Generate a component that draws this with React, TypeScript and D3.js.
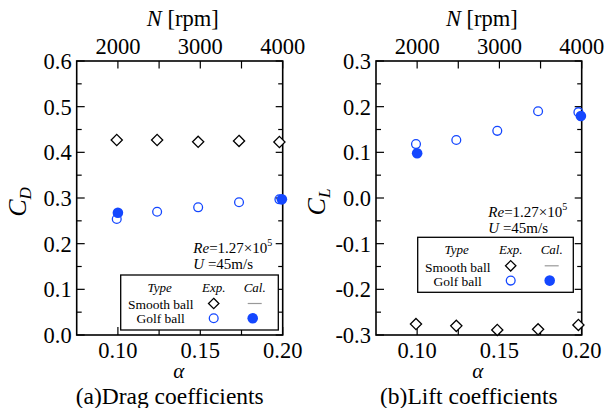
import React from "react";
import * as d3 from "d3";

const alphaExp = [0.0993, 0.1238, 0.1487, 0.1735, 0.198];
const alphaCal = [0.1, 0.1995];
const cdSmoothExp = [0.427, 0.427, 0.423, 0.425, 0.4226];
const cdGolfExp = [0.254, 0.27, 0.2796, 0.2906, 0.2971];
const cdGolfCal = [0.2678, 0.297];
const clSmoothExp = [-0.276, -0.28, -0.289, -0.2875, -0.278];
const clGolfExp = [0.118, 0.127, 0.147, 0.19, 0.188];
const clGolfCal = [0.098, 0.1795];
const alphaTicks = [0.1, 0.125, 0.15, 0.175, 0.2];
const alphaLabels = [0.1, 0.15, 0.2];
const rpmTicks = [2000, 2500, 3000, 3500, 4000];
const rpmLabels = [2000, 3000, 4000];
const cdTicks = [0, 0.1, 0.2, 0.3, 0.4, 0.5, 0.6];
const clTicks = [-0.3, -0.2, -0.1, 0, 0.1, 0.2, 0.3];
const legendRows = ["Smooth ball", "Golf ball"];

const BLUE = "#1447ff";
const FONT = "Liberation Serif, Times New Roman, serif";

type PanelProps = {
  x0: number;
  x1: number;
  yDomain: [number, number];
  yTicks: number[];
  smooth: number[];
  golf: number[];
  cal: number[];
  sub: string;
  caption: string;
  reY: number;
  legendTop: number;
  legendLeft: number;
  legendRight: number;
};

function Diamond({ cx, cy, r }: { cx: number; cy: number; r: number }) {
  return (
    <path
      d={`M${cx},${cy - r}L${cx + r},${cy}L${cx},${cy + r}L${cx - r},${cy}Z`}
      fill="white"
      stroke="black"
      strokeWidth={1.3}
    />
  );
}

function Panel(p: PanelProps) {
  const top = 61;
  const bottom = 335;
  const x = d3.scaleLinear().domain([0.075, 0.2]).range([p.x0, p.x1]);
  const xr = d3.scaleLinear().domain([1500, 4000]).range([p.x0, p.x1]);
  const y = d3.scaleLinear().domain(p.yDomain).range([bottom, top]);
  const minor: number[] = [];
  for (let i = 0; i < p.yTicks.length - 1; i++) minor.push((p.yTicks[i] + p.yTicks[i + 1]) / 2);
  const fmtY = (v: number) => {
    const s = d3.format(".1f")(Math.abs(v) < 1e-9 ? 0 : v);
    return s.replace("−", "-");
  };
  const cx = (p.x0 + p.x1) / 2;
  const lt = p.legendTop;
  const colType = p.legendLeft + 39;
  const colExp = p.legendLeft + 93;
  const colCal = p.legendLeft + 134;
  return (
    <g fontFamily={FONT}>
      {p.yTicks.map((v) => (
        <g key={"yt" + v}>
          <line x1={p.x0} x2={p.x0 + 8} y1={y(v)} y2={y(v)} stroke="black" strokeWidth={1.2} />
          <line x1={p.x1} x2={p.x1 - 7} y1={y(v)} y2={y(v)} stroke="black" strokeWidth={1.2} />
          <text x={p.x0 - 5} y={y(v)} dy="0.35em" textAnchor="end" fontSize={22.5}>
            {fmtY(v)}
          </text>
        </g>
      ))}
      {minor.map((v) => (
        <g key={"ym" + v}>
          <line x1={p.x0} x2={p.x0 + 5} y1={y(v)} y2={y(v)} stroke="black" strokeWidth={1.2} />
          <line x1={p.x1} x2={p.x1 - 4.5} y1={y(v)} y2={y(v)} stroke="black" strokeWidth={1.2} />
        </g>
      ))}
      {alphaTicks.map((v) => (
        <line key={"xt" + v} x1={x(v)} x2={x(v)} y1={bottom} y2={bottom - 8} stroke="black" strokeWidth={1.2} />
      ))}
      {alphaLabels.map((v) => (
        <text key={"xl" + v} x={x(v)} y={358} textAnchor="middle" fontSize={22.5}>
          {d3.format(".2f")(v)}
        </text>
      ))}
      {rpmTicks.map((v) => (
        <line key={"rt" + v} x1={xr(v)} x2={xr(v)} y1={top} y2={top + 7.5} stroke="black" strokeWidth={1.2} />
      ))}
      {rpmLabels.map((v) => (
        <text key={"rl" + v} x={xr(v)} y={53.5} textAnchor="middle" fontSize={22.5}>
          {v}
        </text>
      ))}
      <rect x={p.x0} y={top} width={p.x1 - p.x0} height={bottom - top} fill="none" stroke="black" strokeWidth={1.6} />
      <text x={cx + 3} y={26} textAnchor="middle" fontSize={22.5}>
        <tspan fontStyle="italic">N</tspan> [rpm]
      </text>
      <text x={cx - 1} y={378} textAnchor="middle" fontSize={21} fontStyle="italic">
        α
      </text>
      <text x={cx - 10} y={403.5} textAnchor="middle" fontSize={23.5}>
        {p.caption}
      </text>
      <text transform={`translate(${p.x0 - 51},${(top + bottom) / 2 + 4}) rotate(-90)`} textAnchor="middle" fontSize={26}>
        <tspan fontStyle="italic">C</tspan>
        <tspan fontStyle="italic" fontSize={17} dy={5}>
          {p.sub}
        </tspan>
      </text>
      <text x={p.legendRight - 85} y={p.reY} fontSize={15}>
        <tspan fontStyle="italic">Re</tspan>
        <tspan>=1.27×10</tspan>
        <tspan fontSize={10} dy={-7}>5</tspan>
      </text>
      <text x={p.legendRight - 85} y={p.reY + 16} fontSize={15}>
        <tspan fontStyle="italic">U</tspan>
        <tspan> =45m/s</tspan>
      </text>
      <rect x={p.legendLeft} y={lt} width={p.legendRight - p.legendLeft} height={55} fill="white" stroke="black" strokeWidth={1.3} />
      <text x={colType} y={lt + 16.5} textAnchor="middle" fontSize={13} fontStyle="italic">Type</text>
      <text x={colExp} y={lt + 16.5} textAnchor="middle" fontSize={13} fontStyle="italic">Exp.</text>
      <text x={colCal} y={lt + 16.5} textAnchor="middle" fontSize={13} fontStyle="italic">Cal.</text>
      {legendRows.map((r, i) => (
        <text key={r} x={colType + 1} y={lt + 34.3 + i * 14} textAnchor="middle" fontSize={13.5}>
          {r}
        </text>
      ))}
      <Diamond cx={colExp} cy={lt + 28.5} r={5.2} />
      <line x1={colCal - 7} x2={colCal + 7} y1={lt + 28.5} y2={lt + 28.5} stroke="#999" strokeWidth={1.2} />
      <circle cx={colExp} cy={lt + 43.3} r={4.4} fill="none" stroke={BLUE} strokeWidth={1.3} />
      <circle cx={colCal - 2} cy={lt + 43.3} r={5.3} fill={BLUE} />
      {p.smooth.map((v, i) => (
        <Diamond key={"s" + i} cx={x(alphaExp[i])} cy={y(v)} r={5.6} />
      ))}
      {p.golf.map((v, i) => (
        <circle key={"g" + i} cx={x(alphaExp[i])} cy={y(v)} r={4.4} fill="none" stroke={BLUE} strokeWidth={1.3} />
      ))}
      {p.cal.map((v, i) => (
        <circle key={"c" + i} cx={x(alphaCal[i])} cy={y(v)} r={5.3} fill={BLUE} />
      ))}
    </g>
  );
}

export default function App() {
  return (
    <svg
      width={612}
      height={408}
      style={{ position: "absolute", left: 0, top: 0, background: "white" }}
    >
      <rect width={612} height={408} fill="white" />
      <Panel
        x0={76.7}
        x1={282.7}
        yDomain={[0, 0.6]}
        yTicks={cdTicks}
        smooth={cdSmoothExp}
        golf={cdGolfExp}
        cal={cdGolfCal}
        sub="D"
        caption="(a)Drag coefficients"
        reY={253}
        legendTop={275}
        legendLeft={120.7}
        legendRight={278.3}
      />
      <Panel
        x0={376}
        x1={581.7}
        yDomain={[-0.3, 0.3]}
        yTicks={clTicks}
        smooth={clSmoothExp}
        golf={clGolfExp}
        cal={clGolfCal}
        sub="L"
        caption="(b)Lift coefficients"
        reY={216.7}
        legendTop={237.3}
        legendLeft={417.7}
        legendRight={573.3}
      />
    </svg>
  );
}
